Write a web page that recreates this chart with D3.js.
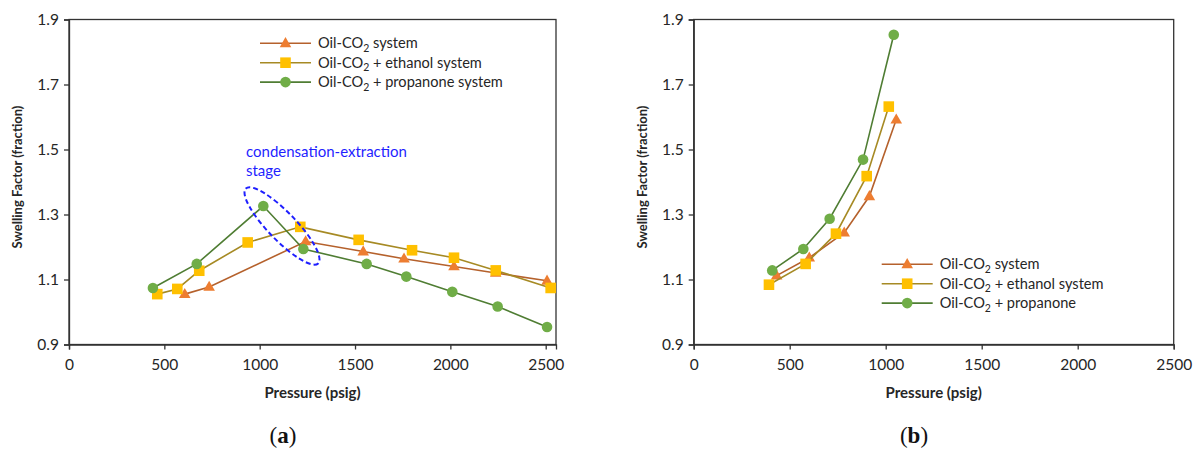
<!DOCTYPE html>
<html><head><meta charset="utf-8">
<script src="https://cdn.jsdelivr.net/npm/d3@7"></script>
<style>body{margin:0;background:#fff}svg{display:block}</style>
</head><body>
<svg id="c" width="1195" height="456"></svg>
<script>
// ---- data ----
const seriesNames = ["Oil-CO2 system", "Oil-CO2 + ethanol system", "Oil-CO2 + propanone system"];
const seriesNamesB = ["Oil-CO2 system", "Oil-CO2 + ethanol system", "Oil-CO2 + propanone"];
const xTicks = [0, 500, 1000, 1500, 2000, 2500];
const yTicks = [0.9, 1.1, 1.3, 1.5, 1.7, 1.9];

// panel (a)
const aSysX = [607, 735, 1241, 1543, 1757, 2019, 2238, 2507];
const aSysY = [1.055, 1.077, 1.217, 1.186, 1.164, 1.140, 1.120, 1.096];
const aEthX = [463, 568, 683, 937, 1213, 1519, 1799, 2019, 2238, 2526];
const aEthY = [1.055, 1.071, 1.127, 1.214, 1.262, 1.222, 1.190, 1.167, 1.128, 1.074];
const aProX = [440, 670, 1019, 1229, 1561, 1769, 2010, 2248, 2507];
const aProY = [1.074, 1.148, 1.326, 1.194, 1.148, 1.109, 1.062, 1.017, 0.954];

// panel (b)
const bSysX = [432, 602, 784, 915, 1055];
const bSysY = [1.112, 1.167, 1.244, 1.356, 1.592];
const bEthX = [392, 583, 741, 901, 1016];
const bEthY = [1.084, 1.148, 1.241, 1.418, 1.632];
const bProX = [409, 571, 708, 882, 1042];
const bProY = [1.128, 1.194, 1.287, 1.469, 1.853];

const markerColors = ["#ED7D31", "#FFC000", "#70AD47"];
const lineColors = ["#B5612C", "#A68A24", "#4F7D33"];
const markerShapes = ["triangle", "square", "circle"];

const font = "Lato, 'Open Sans', sans-serif";
const textCol = "#262626";
const svg = d3.select("#c");

function zip(xs, ys){ return xs.map((x,i)=>({x, y: ys[i]})); }

function drawMarker(g, shape, color, cx, cy){
  if (shape === "circle") {
    g.append("circle").attr("cx", cx).attr("cy", cy).attr("r", 5.3).attr("fill", color);
  } else if (shape === "square") {
    g.append("rect").attr("x", cx-5.3).attr("y", cy-5.3).attr("width", 10.6).attr("height", 10.6).attr("fill", color);
  } else {
    g.append("path").attr("d", d3.symbol().type(d3.symbolTriangle).size(58)()).attr("transform", `translate(${cx},${cy+0.5})`).attr("fill", color);
  }
}

function legendText(t, x, y, name){
  const parts = name.split("CO2");
  const tx = t.append("text").attr("x", x).attr("y", y).attr("font-family", font).attr("font-size", 14.6).attr("fill", textCol);
  tx.append("tspan").text(parts[0] + "CO");
  tx.append("tspan").text("2").attr("font-size", 10.5).attr("dy", 3.5);
  tx.append("tspan").text(parts[1]).attr("dy", -3.5);
}

function panel(opts){
  const {left, right, top, bottom, xMax, series, legend, names, label, labelX} = opts;
  const x = d3.scaleLinear().domain([0, xMax]).range([left, right]);
  const y = d3.scaleLinear().domain([0.9, 1.9]).range([bottom, top]);
  const g = svg.append("g");

  // frame
  g.append("rect").attr("x", left).attr("y", top).attr("width", right-left).attr("height", bottom-top)
    .attr("fill", "none").attr("stroke", "#333").attr("stroke-width", 1.3);

  const xa = g.append("g").attr("transform", `translate(0,${bottom})`)
    .call(d3.axisBottom(x).tickValues(xTicks).tickSize(5).tickPadding(9).tickFormat(d3.format("d")));
  const ya = g.append("g").attr("transform", `translate(${left},0)`)
    .call(d3.axisLeft(y).tickValues(yTicks).tickSize(5).tickPadding(5).tickFormat(d3.format(".1f")));
  [xa, ya].forEach(a => {
    a.select(".domain").attr("stroke", "#333").attr("stroke-width", 1.3);
    a.selectAll(".tick line").attr("stroke", "#333").attr("stroke-width", 1.3);
    a.selectAll(".tick text").attr("font-family", font).attr("font-size", 15.5).attr("fill", textCol);
  });

  // titles
  g.append("text").attr("x", (left+right)/2).attr("y", bottom+53).attr("text-anchor", "middle")
    .attr("font-family", font).attr("font-weight", "bold").attr("font-size", 15).attr("fill", textCol).text("Pressure (psig)");
  g.append("text").attr("transform", `translate(${left-47},${(top+bottom)/2 - 5}) rotate(-90)`).attr("text-anchor", "middle")
    .attr("font-family", font).attr("font-weight", "bold").attr("font-size", 13).attr("fill", textCol).text("Swelling Factor (fraction)");

  // series
  const line = d3.line().x(d => x(d.x)).y(d => y(d.y));
  series.forEach((s, i) => {
    const sg = g.append("g");
    sg.append("path").attr("d", line(s)).attr("fill", "none").attr("stroke", lineColors[i]).attr("stroke-width", 1.6);
    s.forEach(d => drawMarker(sg, markerShapes[i], markerColors[i], x(d.x), y(d.y)));
  });

  // legend
  names.forEach((n, i) => {
    const ly = legend.y + i*19.4;
    g.append("line").attr("x1", legend.x).attr("x2", legend.x+51).attr("y1", ly).attr("y2", ly)
      .attr("stroke", lineColors[i]).attr("stroke-width", 1.6);
    drawMarker(g, markerShapes[i], markerColors[i], legend.x+25.5, ly);
    legendText(g, legend.x+58, ly+5, n);
  });

  // panel label
  const lt = g.append("text").attr("x", labelX).attr("y", 443).attr("text-anchor", "middle")
    .attr("font-family", "'Liberation Serif', 'DejaVu Serif', serif").attr("font-size", 23).attr("fill", "#111");
  lt.append("tspan").text("(");
  lt.append("tspan").attr("font-weight", "bold").text(label);
  lt.append("tspan").text(")");
  return {g, x, y};
}

const A = panel({left: 69, right: 556, top: 19.5, bottom: 344.5, xMax: 2554,
  series: [zip(aSysX, aSysY), zip(aEthX, aEthY), zip(aProX, aProY)],
  legend: {x: 260, y: 43.3}, names: seriesNames, label: "a", labelX: 283});

const B = panel({left: 693.7, right: 1173.7, top: 19.5, bottom: 344.5, xMax: 2500,
  series: [zip(bSysX, bSysY), zip(bEthX, bEthY), zip(bProX, bProY)],
  legend: {x: 881.7, y: 264.3}, names: seriesNamesB, label: "b", labelX: 914});

// annotation on panel (a)
const blue = "#1F1FFF";
A.g.append("text").attr("x", 246).attr("y", 157).attr("font-family", font).attr("font-size", 15).attr("fill", blue).text("condensation-extraction");
A.g.append("text").attr("x", 246).attr("y", 176).attr("font-family", font).attr("font-size", 15).attr("fill", blue).text("stage");
A.g.append("ellipse").attr("cx", 0).attr("cy", 0).attr("rx", 52).attr("ry", 14)
  .attr("transform", "translate(282,226) rotate(46)")
  .attr("fill", "none").attr("stroke", blue).attr("stroke-width", 2).attr("stroke-dasharray", "5,3");
</script>
</body></html>
